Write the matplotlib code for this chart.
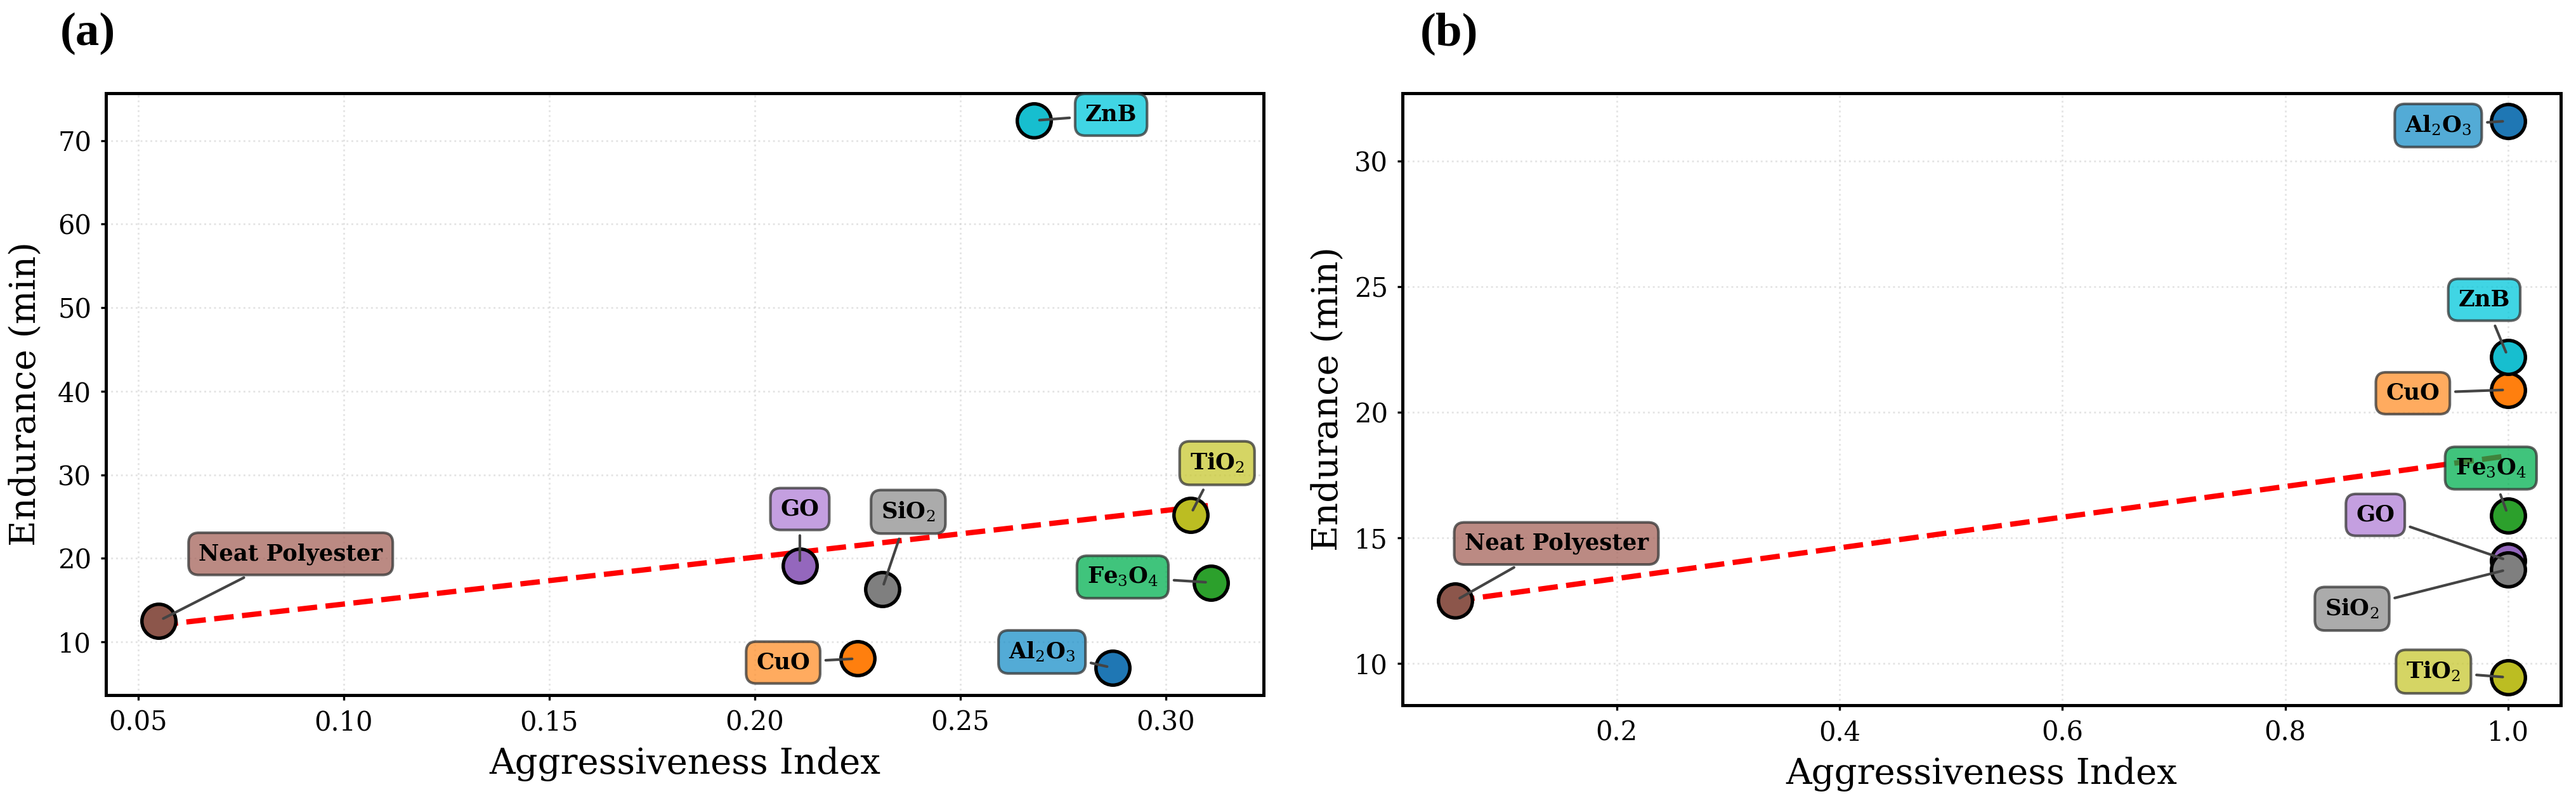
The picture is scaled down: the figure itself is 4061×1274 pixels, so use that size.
import numpy as np
import matplotlib.pyplot as plt

plt.rcParams['font.family'] = ['DejaVu Serif']
plt.rcParams['mathtext.fontset'] = 'dejavuserif'

# materials, same order in both panels
materials = ["Neat Polyester", "Al2O3", "CuO", "Fe3O4", "GO", "SiO2", "TiO2", "ZnB"]
labels = ["Neat Polyester", r"Al$_2$O$_3$", "CuO", r"Fe$_3$O$_4$", "GO",
          r"SiO$_2$", r"TiO$_2$", "ZnB"]

# panel (a)
aggr_a = [0.055, 0.287, 0.225, 0.311, 0.211, 0.231, 0.306, 0.268]
endur_a = [12.5, 6.9, 8.0, 17.1, 19.1, 16.3, 25.2, 72.4]

# panel (b)
aggr_b = [0.055, 1.0, 1.0, 1.0, 1.0, 1.0, 1.0, 1.0]
endur_b = [12.5, 31.6, 20.9, 15.9, 14.1, 13.75, 9.45, 22.2]

marker_colors = ["#8c564b", "#1f77b4", "#ff7f0e", "#2ca02c", "#9467bd",
                 "#7f7f7f", "#bcbd22", "#17becf"]
box_colors = ["#a5635a", "#1a8fc9", "#ff8f2a", "#00b050", "#b07fd6",
              "#8f8f8f", "#c8c830", "#00c8dc"]

# label offsets in points (box centre relative to the point)
offsets_a = [(50, 25.4), (-26.6, 6.0), (-28.1, -1.5), (-33.4, 2.1),
             (0, 21.5), (9.9, 29.3), (10.1, 19.6), (29.1, 2.2)]
offsets_b = [(38.3, 21.7), (-26.4, -1.7), (-36, -1.3), (-6.5, 17.9),
             (-50.2, 17.3), (-59, -14.9), (-28.2, 2.2), (-9.0, 21.7)]


def draw_panel(ax, x, y, offsets):
    coeffs = np.polyfit(x, y, 1)
    xs = np.array([min(x), max(x)])
    ax.plot(xs, np.polyval(coeffs, xs), linestyle="--", color="red", lw=2, zorder=2)

    for i in range(len(materials)):
        ax.scatter(x[i], y[i], s=165, color=marker_colors[i], edgecolor="black",
                   linewidth=1.3, zorder=3)
        ax.annotate(
            labels[i], (x[i], y[i]), xytext=offsets[i], textcoords="offset points",
            ha="center", va="center", fontsize=8.5, fontweight="bold", zorder=4,
            bbox=dict(boxstyle="round,pad=0.45", fc=box_colors[i], ec="#333333",
                      lw=1, alpha=0.75),
            arrowprops=dict(arrowstyle="-", color="#444444", lw=1),
        )

    ax.grid(True, linestyle=":", color="#cccccc", alpha=0.5, lw=0.7)
    ax.set_axisbelow(True)
    for sp in ax.spines.values():
        sp.set_linewidth(1.2)
        sp.set_color("black")
    ax.tick_params(labelsize=10, length=2, width=0.8)
    ax.set_xlabel("Aggressiveness Index", fontsize=13.5)
    ax.set_ylabel("Endurance (min)", fontsize=13.5)


fig = plt.figure(figsize=(4062 / 300, 1274 / 300), dpi=300)
ax_a = fig.add_axes([0.0411, 0.1397, 0.4493, 0.745])
ax_b = fig.add_axes([0.5443, 0.1272, 0.4495, 0.7575])

draw_panel(ax_a, aggr_a, endur_a, offsets_a)
draw_panel(ax_b, aggr_b, endur_b, offsets_b)

ax_a.yaxis.set_label_coords(-0.054, 0.5)
ax_b.yaxis.set_label_coords(-0.049, 0.5)

fig.text(0.034, 0.958, "(a)", fontsize=18, fontweight="bold", ha="center", va="center",
         family="Liberation Serif")
fig.text(0.5623, 0.958, "(b)", fontsize=18, fontweight="bold", ha="center", va="center",
         family="Liberation Serif")

fig.savefig("out.png", dpi=300)
